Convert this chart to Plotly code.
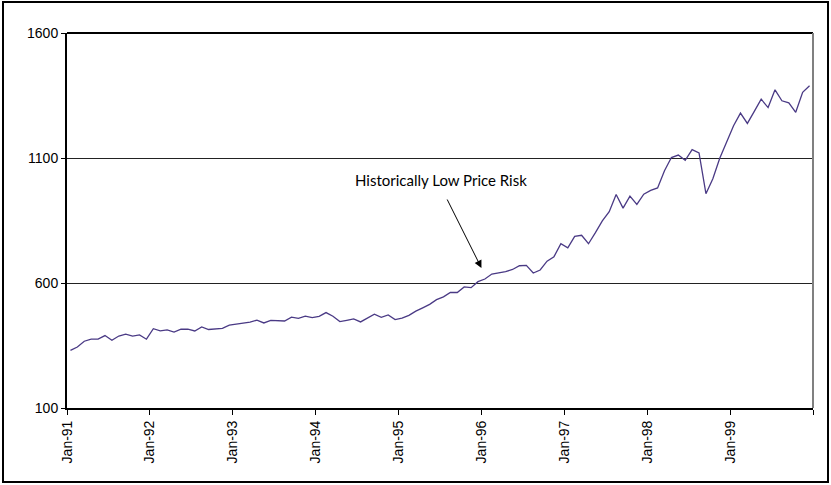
import plotly.graph_objects as go

# Monthly index values (month-start levels): Jan-91 .. Dec-99
values_1991 = [330.2, 343.9, 367.1, 375.2, 375.3, 389.8, 371.2, 387.8, 395.4, 387.9, 392.5, 375.2]
values_1992 = [417.1, 408.8, 412.7, 403.7, 415.0, 415.4, 408.1, 424.2, 414.0, 417.8, 418.7, 431.4]
values_1993 = [435.7, 438.8, 443.4, 451.7, 440.2, 450.2, 450.5, 448.1, 463.6, 458.9, 467.8, 461.8]
values_1994 = [466.5, 481.6, 467.1, 445.8, 450.9, 456.5, 444.3, 458.3, 475.5, 462.7, 472.4, 453.7]
values_1995 = [459.3, 470.4, 487.4, 500.7, 514.7, 533.4, 544.8, 562.1, 561.9, 584.4, 581.5, 605.4]
values_1996 = [615.9, 636.0, 640.4, 645.5, 654.2, 669.1, 670.6, 640.0, 652.0, 687.3, 705.3, 757.0]
values_1997 = [740.7, 786.2, 790.8, 757.1, 801.3, 848.3, 885.1, 954.3, 899.5, 947.3, 914.6, 955.4]
values_1998 = [970.4, 980.3, 1049.3, 1101.8, 1111.8, 1090.8, 1133.8, 1120.7, 957.3, 1017.0, 1098.7, 1163.6]
values_1999 = [1229.2, 1279.6, 1238.3, 1286.4, 1335.2, 1301.8, 1372.7, 1328.7, 1320.4, 1282.7, 1362.9, 1388.9]

tick_labels = ["Jan-91", "Jan-92", "Jan-93", "Jan-94", "Jan-95", "Jan-96", "Jan-97", "Jan-98", "Jan-99"]
y_ticks = [100, 600, 1100, 1600]
annotation_text = "Historically Low Price Risk"

values = (values_1991 + values_1992 + values_1993 + values_1994 + values_1995
          + values_1996 + values_1997 + values_1998 + values_1999)
n = len(values)
x = [i + 0.5 for i in range(n)]

W, H = 831, 485
ML, MR, MT, MB = 67, 18, 33, 77
PW, PH = W - ML - MR, H - MT - MB

fig = go.Figure()
fig.add_trace(go.Scatter(x=x, y=values, mode="lines",
                         line=dict(color="#4a3a85", width=1.3),
                         hoverinfo="skip", showlegend=False))

tickvals = [12 * k for k in range(len(tick_labels))] + [n]
ticktext = tick_labels + [""]

tick_font = dict(family="Liberation Sans", size=14, color="black")

fig.update_layout(
    width=W, height=H,
    margin=dict(l=ML, r=MR, t=MT, b=MB),
    paper_bgcolor="white", plot_bgcolor="white",
    font=dict(family="Liberation Sans", size=14, color="black"),
    xaxis=dict(range=[0, n], tickmode="array", tickvals=tickvals, ticktext=ticktext,
               tickangle=-90, ticks="outside", ticklen=5, tickcolor="black", tickwidth=1,
               showline=True, linecolor="black", linewidth=2, showgrid=False,
               zeroline=False, tickfont=tick_font, fixedrange=True),
    yaxis=dict(range=[100, 1600], tickmode="array", tickvals=y_ticks,
               ticks="outside", ticklen=4, tickcolor="black", tickwidth=1,
               showline=True, linecolor="black", linewidth=2,
               showgrid=True, gridcolor="#222222", gridwidth=1,
               zeroline=False, tickfont=tick_font, fixedrange=True),
)

# top border (black) and right border (gray) of plot area
fig.add_shape(type="line", xref="paper", yref="paper", x0=0, x1=1, y0=1, y1=1,
              line=dict(color="black", width=2))
fig.add_shape(type="line", xref="paper", yref="paper", x0=1, x1=1, y0=0, y1=1,
              line=dict(color="#808080", width=2))

# outer chart border
bx0, bx1 = 3, 828
by0, by1 = 2, 482
fig.add_shape(type="rect", xref="paper", yref="paper",
              x0=(bx0 - ML) / PW, x1=(bx1 - ML) / PW,
              y0=(H - MB - by1) / PH, y1=(H - MB - by0) / PH,
              line=dict(color="black", width=2), fillcolor="rgba(0,0,0,0)")

# arrow
fig.add_annotation(x=60, y=660, xref="x", yref="y", text="", showarrow=True,
                   ax=-35, ay=-70, arrowhead=2, arrowsize=1.5, arrowwidth=1,
                   arrowcolor="black")
# annotation text
fig.add_annotation(x=54.1, y=1012, xref="x", yref="y", text=annotation_text,
                   showarrow=False,
                   font=dict(family="Lato", size=15, color="black"))

fig.write_html("out.html", config={"displayModeBar": False},
               post_script="document.body.style.margin='0px';document.body.style.overflow='hidden';")
